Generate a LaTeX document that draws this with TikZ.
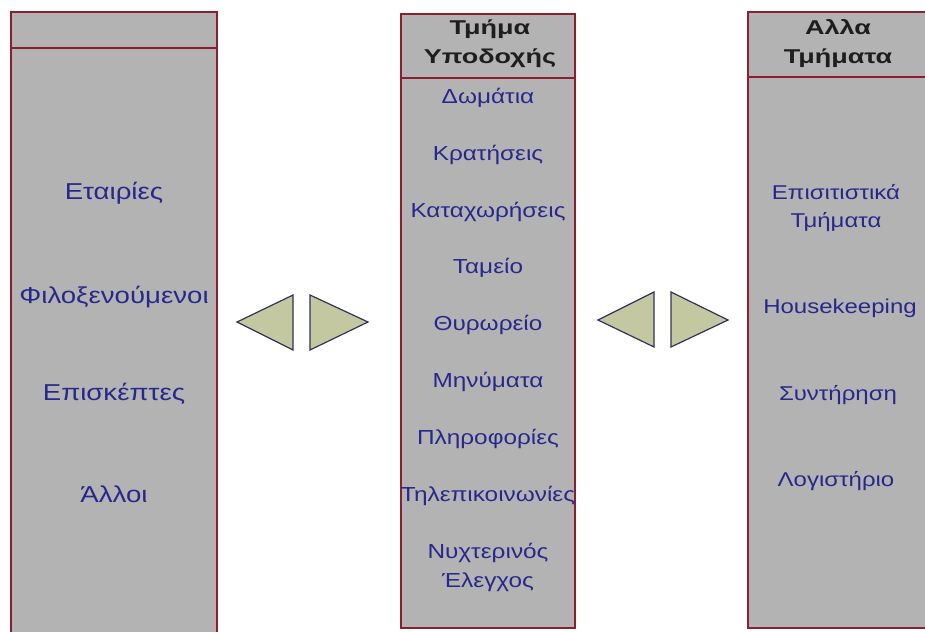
\documentclass[tikz,border=0pt]{standalone}
\usepackage{fontspec}
\setmainfont{Liberation Sans}
\newfontfamily\itemfont{Liberation Sans}[FakeStretch=1.2]
\newfontfamily\headfont{Liberation Sans}[FakeStretch=1.35]
\definecolor{panelfill}{RGB}{179,179,179}
\definecolor{panelline}{RGB}{140,30,50}
\definecolor{itemblue}{RGB}{40,40,140}
\definecolor{headtext}{RGB}{30,30,30}
\definecolor{arrowfill}{RGB}{196,200,160}
\definecolor{arrowline}{RGB}{50,50,90}
\tikzset{
  panel/.style={fill=panelfill, draw=panelline, line width=1.5pt},
  divider/.style={draw=panelline, line width=1.5pt},
  item/.style={text=itemblue, font=\itemfont\fontsize{20.3}{29}\selectfont, align=center, inner sep=0pt},
  sideitem/.style={text=itemblue, font=\itemfont\fontsize{20}{28}\selectfont, align=center, inner sep=0pt},
  bigitem/.style={text=itemblue, font=\itemfont\fontsize{23}{28}\selectfont, align=center, inner sep=0pt},
  head/.style={text=headtext, font=\headfont\bfseries\fontsize{20}{29}\selectfont, align=center, inner sep=0pt},
  pointer/.style={fill=arrowfill, draw=arrowline, line width=1.2pt, line join=miter}
}
\begin{document}
\begin{tikzpicture}[x=1pt, y=-1pt]
\useasboundingbox (0,0) rectangle (925,631);
\clip (0,0) rectangle (925,631);
\fill[white] (0,0) rectangle (925,631);

% left panel (open at the bottom)
\draw[panel] (11,12) rectangle (217,650);
\draw[divider] (11,48) -- (217,48);
\node[bigitem] (l1) at (114,193) {Εταιρίες};
\node[bigitem] (l2) at (114,297) {Φιλοξενούμενοι};
\node[bigitem] (l3) at (114,394) {Επισκέπτες};
\node[bigitem] (l4) at (114,494) {Άλλοι};

% middle panel
\draw[panel] (401,14) rectangle (575,628);
\draw[divider] (401,78) -- (575,78);
\node[head] (mh) at (490,44) {Τμήμα\\Υποδοχής};
\node[item] (m1) at (488,98) {Δωμάτια};
\node[item] (m2) at (488,155) {Κρατήσεις};
\node[item] (m3) at (488,212) {Καταχωρήσεις};
\node[item] (m4) at (488,268) {Ταμείο};
\node[item] (m5) at (488,325) {Θυρωρείο};
\node[item] (m6) at (488,382) {Μηνύματα};
\node[item] (m7) at (488,439) {Πληροφορίες};
\node[item] (m8) at (488,496) {Τηλεπικοινωνίες};
\node[item] (m9) at (488,567) {Νυχτερινός\\Έλεγχος};

% right panel (open at the right)
\draw[panel] (748,12) rectangle (940,628);
\draw[divider] (748,77) -- (940,77);
\node[head] (rh) at (838,44) {Αλλα\\Τμήματα};
\node[sideitem] (r1) at (836,208) {Επισιτιστικά\\Τμήματα};
\node[sideitem] (r2) at (840,308) {Housekeeping};
\node[sideitem] (r3) at (838,395) {Συντήρηση};
\node[sideitem] (r4) at (836,481) {Λογιστήριο};

% exchange pointers between the panels
\draw[pointer] (237,322) -- (293,295) -- (293,350) -- cycle;
\draw[pointer] (368,322) -- (310,295) -- (310,350) -- cycle;
\draw[pointer] (598,320) -- (654,292) -- (654,347) -- cycle;
\draw[pointer] (728,320) -- (671,292) -- (671,347) -- cycle;
\end{tikzpicture}
\end{document}
